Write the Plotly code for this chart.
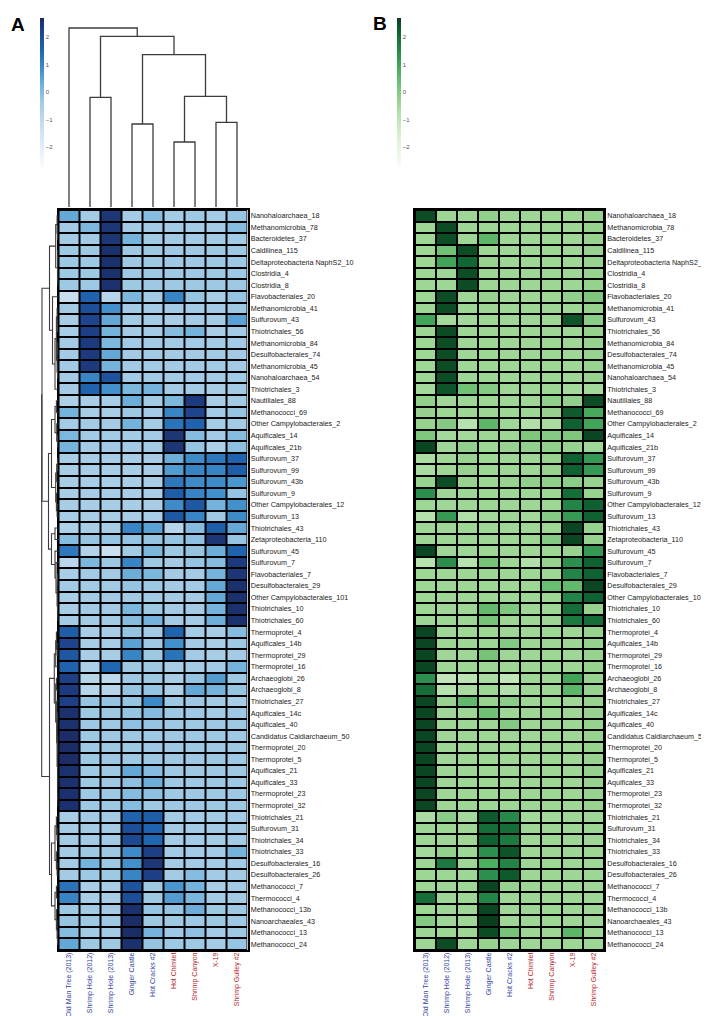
import plotly.graph_objects as go

W, H = 709, 1016

row_labels = [
    "Nanohaloarchaea_18", "Methanomicrobia_78", "Bacteroidetes_37", "Caldilinea_115",
    "Deltaproteobacteria NaphS2_10", "Clostridia_4", "Clostridia_8", "Flavobacteriales_20",
    "Methanomicrobia_41", "Sulfurovum_43", "Thiotrichales_56", "Methanomicrobia_84",
    "Desulfobacterales_74", "Methanomicrobia_45", "Nanohaloarchaea_54", "Thiotrichales_3",
    "Nautiliales_88", "Methanococci_69", "Other Campylobacterales_2", "Aquificales_14",
    "Aquificales_21b", "Sulfurovum_37", "Sulfurovum_99", "Sulfurovum_43b",
    "Sulfurovum_9", "Other Campylobacterales_12", "Sulfurovum_13", "Thiotrichales_43",
    "Zetaproteobacteria_110", "Sulfurovum_45", "Sulfurovum_7", "Flavobacteriales_7",
    "Desulfobacterales_29", "Other Campylobacterales_101", "Thiotrichales_10", "Thiotrichales_60",
    "Thermoprotei_4", "Aquificales_14b", "Thermoprotei_29", "Thermoprotei_16",
    "Archaeoglobi_26", "Archaeoglobi_8", "Thiotrichales_27", "Aquificales_14c",
    "Aquificales_40", "Candidatus Caldiarchaeum_50", "Thermoprotei_20", "Thermoprotei_5",
    "Aquificales_21", "Aquificales_33", "Thermoprotei_23", "Thermoprotei_32",
    "Thiotrichales_21", "Sulfurovum_31", "Thiotrichales_34", "Thiotrichales_33",
    "Desulfobacterales_16", "Desulfobacterales_26", "Methanococci_7", "Thermococci_4",
    "Methanococci_13b", "Nanoarchaeales_43", "Methanococci_13", "Methanococci_24",
]

col_labels = ["Old Man Tree (2013)", "Shrimp Hole (2012)", "Shrimp Hole (2013)",
              "Ginger Castle", "Hot Cracks #2", "Hot Chimlet", "Shrimp Canyon",
              "X-19", "Shrimp Gulley #2"]
col_groups = ["blue", "blue", "blue", "blue", "blue", "red", "red", "red", "red"]

A_values = [
    [0.4, -0.4, 2.5, -0.4, 0.0, -0.4, -0.3, -0.4, -0.2],
    [-0.4, 0.1, 2.5, -0.4, -0.4, -0.4, -0.4, -0.4, 0.0],
    [-0.4, -0.4, 2.5, 0.2, -0.4, -0.4, -0.4, -0.4, -0.4],
    [-0.3, -0.3, 2.6, -0.3, -0.3, -0.3, -0.3, -0.3, -0.3],
    [-0.3, -0.3, 2.6, -0.3, -0.3, -0.3, -0.3, -0.3, -0.3],
    [-0.3, -0.3, 2.6, -0.3, -0.3, -0.3, -0.3, -0.3, -0.3],
    [-0.3, -0.3, 2.6, -0.3, -0.3, -0.3, -0.3, -0.3, -0.3],
    [-1.2, 1.6, -0.8, 0.1, -0.4, 1.0, -0.2, -0.5, -0.2],
    [-0.4, 2.0, 0.8, -0.4, -0.4, -0.4, -0.4, -0.4, -0.3],
    [-0.5, 2.2, 0.4, -0.4, -0.4, -0.5, -0.4, -0.4, 0.5],
    [-0.5, 2.3, 0.2, -0.4, -0.4, 0.0, 0.2, -0.5, -0.4],
    [-0.4, 2.4, 0.1, -0.4, -0.4, -0.4, -0.4, -0.4, -0.4],
    [-0.4, 2.4, 0.4, -0.4, -0.4, -0.4, -0.4, -0.4, -0.4],
    [-0.4, 2.4, 0.2, -0.4, -0.4, -0.4, -0.4, -0.4, -0.4],
    [-0.4, 1.0, 1.9, -0.4, -0.4, -0.4, -0.4, -0.4, -0.4],
    [-0.4, 1.6, 0.8, 0.1, 0.2, -0.4, -0.4, -0.5, -0.4],
    [-0.6, -0.5, -0.5, 0.3, -0.4, 0.1, 2.4, -0.5, -0.4],
    [0.2, -0.5, -0.5, -0.3, -0.4, 1.0, 2.2, -0.4, -0.2],
    [-0.4, -0.4, -0.4, 0.2, -0.4, 1.3, 1.6, -0.4, -0.4],
    [0.1, -0.4, -0.4, -0.4, -0.4, 2.5, 0.0, -0.4, 0.0],
    [0.2, -0.4, -0.4, -0.4, -0.4, 2.5, -0.2, -0.6, -0.1],
    [-0.5, -0.5, -0.5, -0.5, -0.5, 0.3, 0.9, 1.2, 1.6],
    [-0.5, -0.5, -0.5, -0.5, -0.5, 0.6, 1.0, 1.0, 1.7],
    [-0.5, -0.5, -0.5, -0.5, -0.5, 1.2, 0.9, 0.9, 0.7],
    [-0.5, -0.5, -0.5, -0.5, -0.5, 1.7, 1.0, 0.8, -0.2],
    [-0.5, -0.5, -0.5, -0.5, -0.5, 0.9, 1.8, 0.2, 0.8],
    [-0.5, -0.5, -0.5, -0.5, -0.5, 1.8, 1.0, -0.3, 0.9],
    [-0.6, -0.5, -0.5, 1.0, 0.5, -0.8, 0.0, 1.7, 0.4],
    [0.0, -0.2, -0.2, -0.2, -0.2, -0.2, -0.1, 2.5, -0.2],
    [1.2, -0.7, -1.3, -0.4, 0.1, -0.3, -0.2, 0.3, 1.6],
    [-0.9, 0.1, -0.3, 1.0, -0.3, -0.4, -0.2, 0.0, 2.4],
    [-0.5, -0.4, -0.4, 0.3, 0.1, -0.4, -0.4, 0.2, 2.5],
    [-0.4, -0.4, -0.4, -0.2, -0.3, -0.4, -0.4, 0.4, 2.6],
    [-0.5, -0.4, -0.4, -0.4, -0.4, -0.4, -0.4, 0.4, 2.6],
    [-0.5, -0.4, -0.4, 0.1, -0.3, -0.4, -0.4, 0.2, 2.6],
    [-0.4, -0.4, -0.4, 0.0, 0.2, -0.4, -0.4, 0.3, 2.6],
    [1.7, -0.5, -0.5, -0.2, -0.4, 1.6, -0.4, -0.5, 0.0],
    [2.2, -0.5, -0.5, 0.5, -0.3, 0.8, -0.4, -0.5, -0.3],
    [1.8, -0.5, -0.5, 1.0, -0.3, 1.3, -0.4, -0.5, -0.4],
    [1.6, -0.6, 1.5, -0.3, -0.3, -0.5, -0.4, -0.4, 0.2],
    [2.3, -0.8, -1.0, -0.3, -0.3, -0.5, -0.2, 0.6, -0.3],
    [2.4, -0.8, -0.8, -0.2, -0.2, -0.6, 0.4, 0.2, -0.2],
    [2.3, -0.2, -0.2, -0.2, 0.9, -0.3, -0.3, -0.4, -0.5],
    [2.6, -0.3, -0.3, -0.2, 0.0, -0.3, -0.3, -0.4, -0.3],
    [2.6, -0.3, -0.3, -0.1, -0.2, -0.3, -0.3, -0.3, -0.3],
    [2.7, -0.3, -0.3, -0.3, -0.3, -0.3, -0.3, -0.3, -0.3],
    [2.7, -0.3, -0.3, -0.3, -0.3, -0.3, -0.3, -0.3, -0.3],
    [2.7, -0.3, -0.3, -0.3, -0.3, -0.3, -0.3, -0.3, -0.3],
    [2.6, -0.3, -0.3, 0.4, 0.0, -0.3, -0.3, -0.3, -0.3],
    [2.6, -0.3, -0.3, -0.1, 0.3, -0.3, -0.3, -0.3, -0.3],
    [2.6, -0.3, -0.3, 0.0, -0.1, -0.3, -0.3, -0.3, -0.3],
    [2.6, -0.3, -0.3, 0.0, -0.3, -0.3, -0.3, -0.3, -0.3],
    [-0.5, -0.4, -0.4, 1.6, 1.7, -0.4, -0.4, -0.4, -0.4],
    [-0.4, -0.4, -0.4, 2.0, 1.6, -0.4, -0.4, -0.4, -0.4],
    [-0.4, -0.4, -0.4, 2.1, 1.5, -0.4, -0.4, -0.4, -0.4],
    [-0.4, -0.3, -0.3, 0.9, 2.3, -0.4, -0.4, -0.4, 0.2],
    [-0.4, 0.2, -0.3, 0.8, 2.5, -0.4, -0.4, -0.4, -0.4],
    [-0.4, -0.3, -0.3, 1.0, 2.3, -0.4, 0.0, -0.4, -0.4],
    [1.3, -0.5, -0.5, 1.9, -0.3, 0.7, 0.2, -0.5, -0.4],
    [1.0, -0.5, -0.5, 2.0, -0.3, 0.6, 0.1, -0.4, -0.4],
    [-0.3, -0.4, -0.4, 2.6, -0.2, -0.2, 0.3, -0.3, -0.3],
    [-0.2, -0.3, -0.3, 2.7, -0.3, -0.3, -0.3, -0.3, -0.3],
    [0.0, -0.4, -0.4, 2.7, 0.2, -0.3, -0.1, -0.4, -0.3],
    [0.4, -0.3, -0.3, 2.6, -0.2, -0.3, -0.3, -0.4, -0.2],
]

B_values = [
    [2.5, -0.4, -0.4, -0.2, -0.4, -0.4, -0.4, -0.4, -0.3],
    [-0.4, 2.5, -0.4, -0.4, -0.4, -0.4, -0.4, -0.4, -0.3],
    [-0.4, 2.5, -0.4, 0.6, -0.4, -0.4, -0.4, -0.4, -0.3],
    [-0.4, 0.3, 2.5, -0.4, -0.4, -0.4, -0.4, -0.4, -0.3],
    [-0.4, 1.0, 2.1, -0.3, -0.4, -0.4, -0.4, -0.4, -0.3],
    [-0.4, -0.4, 2.5, -0.4, -0.4, -0.4, -0.4, -0.4, -0.3],
    [-0.4, -0.4, 2.5, -0.4, -0.4, -0.4, -0.4, -0.4, -0.3],
    [-0.4, 2.5, -0.4, -0.3, -0.4, -0.4, -0.4, -0.2, 0.1],
    [-0.4, 2.5, -0.4, -0.4, -0.4, -0.4, -0.4, -0.4, -0.3],
    [1.0, -0.5, -0.5, -0.4, -0.4, -0.4, -0.4, 2.4, -0.1],
    [-0.4, 2.5, -0.4, -0.4, -0.4, -0.4, -0.4, -0.4, -0.3],
    [-0.4, 2.5, -0.4, -0.4, -0.4, -0.4, -0.4, -0.4, -0.3],
    [-0.4, 2.5, -0.4, -0.4, -0.4, -0.4, -0.4, -0.4, -0.3],
    [-0.4, 2.5, -0.4, -0.4, -0.4, -0.4, -0.4, -0.4, -0.3],
    [-0.4, 2.5, -0.4, -0.4, -0.4, -0.4, -0.4, -0.4, -0.3],
    [-0.5, 2.4, 0.3, 0.0, -0.4, -0.4, -0.4, -0.5, -0.5],
    [-0.2, -0.4, -0.4, -0.4, -0.4, -0.4, -0.2, -0.2, 2.5],
    [-0.3, -0.4, -0.4, -0.4, -0.4, -0.4, -0.3, 2.3, 0.9],
    [-0.3, 0.0, -0.8, 0.6, -0.4, -0.7, -0.6, 2.2, 1.0],
    [0.1, -0.5, -0.5, -0.4, -0.4, 0.1, 0.0, 0.1, 2.6],
    [2.6, -0.4, -0.2, -0.4, -0.3, -0.2, -0.2, -0.3, -0.4],
    [-0.6, -0.4, -0.3, -0.4, -0.4, -0.4, -0.3, 2.2, 1.2],
    [-0.6, -0.4, -0.3, -0.4, -0.4, -0.4, -0.3, 2.2, 1.2],
    [-0.3, 2.5, -0.3, -0.4, -0.3, -0.2, -0.2, -0.1, -0.3],
    [1.4, -0.4, -0.4, -0.4, -0.4, -0.4, -0.4, 2.0, -0.3],
    [-0.4, -0.4, -0.4, -0.4, -0.4, -0.4, -0.4, 1.6, 2.2],
    [-0.8, 1.2, -0.7, -0.5, -0.4, -0.5, 0.0, 1.2, 2.2],
    [-0.4, -0.4, -0.4, -0.4, -0.4, -0.4, -0.4, 2.6, -0.3],
    [-0.4, -0.4, -0.4, -0.4, -0.4, -0.4, 0.0, 2.6, -0.3],
    [2.6, -0.4, -0.4, -0.4, -0.4, -0.4, -0.4, -0.3, 1.2],
    [-0.8, 1.4, -0.8, 0.2, -0.4, -0.7, -0.3, 1.4, 2.2],
    [-0.4, -0.4, -0.4, -0.4, -0.4, -0.4, -0.4, 1.6, 2.2],
    [-0.4, -0.4, -0.4, -0.4, -0.4, -0.4, 0.4, 0.5, 2.6],
    [-0.4, -0.4, -0.4, -0.4, -0.4, -0.4, -0.4, 1.6, 2.2],
    [-0.4, -0.4, -0.4, 0.5, 0.1, -0.4, -0.4, 2.0, -0.3],
    [-0.4, -0.4, -0.4, 0.2, -0.4, -0.4, -0.4, 1.8, 2.0],
    [2.6, -0.4, -0.4, -0.4, -0.4, -0.4, -0.4, -0.4, -0.3],
    [2.6, -0.4, -0.4, -0.4, 0.0, -0.4, -0.4, -0.4, -0.3],
    [2.6, -0.4, -0.4, 0.2, -0.4, -0.4, -0.4, -0.4, -0.3],
    [2.6, -0.4, -0.4, -0.4, -0.4, -0.4, -0.4, -0.4, -0.3],
    [1.4, -1.0, -0.9, -0.6, -1.0, -0.4, -0.4, 1.0, -0.3],
    [2.0, -0.8, -0.6, -0.4, -0.7, -0.4, -0.4, 0.6, -0.3],
    [2.6, -0.3, 0.5, -0.3, -0.1, -0.4, -0.4, -0.4, -0.3],
    [2.6, -0.4, -0.4, 0.3, -0.4, -0.4, -0.4, -0.4, -0.3],
    [2.6, -0.4, -0.4, -0.4, 0.0, -0.4, -0.4, -0.4, -0.3],
    [2.6, -0.4, -0.4, -0.4, -0.4, -0.4, -0.4, -0.4, -0.3],
    [2.6, -0.4, -0.4, -0.4, -0.4, -0.4, -0.4, -0.4, -0.3],
    [2.6, -0.4, -0.4, -0.4, -0.4, -0.4, -0.4, -0.4, -0.3],
    [2.6, -0.4, -0.4, -0.4, -0.4, -0.4, -0.4, -0.4, -0.3],
    [2.6, -0.4, -0.4, -0.4, -0.4, -0.4, -0.4, -0.4, -0.3],
    [2.6, -0.4, -0.4, -0.4, -0.4, -0.4, -0.4, -0.4, -0.3],
    [2.6, -0.4, -0.4, -0.4, -0.4, -0.4, -0.4, -0.4, -0.3],
    [-0.6, -0.1, -0.5, 2.3, 1.5, -0.5, -0.5, -0.4, -0.4],
    [-0.4, -0.4, -0.4, 2.0, 2.0, -0.4, -0.4, -0.4, -0.4],
    [-0.4, -0.4, -0.4, 2.2, 1.8, -0.4, -0.4, -0.4, -0.4],
    [-0.5, -0.2, -0.4, 1.4, 2.4, -0.4, -0.4, -0.4, -0.4],
    [-0.4, 1.8, -0.4, 0.8, 1.6, -0.4, -0.4, -0.4, -0.4],
    [-0.4, -0.4, -0.4, 1.4, 2.3, -0.4, -0.4, -0.4, -0.4],
    [-0.4, -0.4, -0.4, 2.6, -0.3, -0.4, -0.4, -0.4, -0.4],
    [2.0, -0.4, -0.4, 1.6, -0.4, -0.4, -0.4, -0.4, -0.4],
    [-0.4, -0.4, -0.4, 2.6, -0.4, -0.4, -0.4, -0.4, -0.4],
    [0.0, -0.4, -0.4, 2.7, -0.4, -0.4, -0.4, -0.4, -0.4],
    [-0.4, -0.4, -0.4, 2.5, 0.2, -0.4, -0.4, 0.6, -0.4],
    [-0.4, 2.5, -0.4, -0.3, -0.4, -0.4, -0.4, -0.4, -0.4],
]

# column dendrogram: [height, left, right]; leaves are column indices
col_tree = [179, 0, [170.7, [109.7, 1, 2], [152.3, [83, 3, 4], [110.7, [65, 5, 6], [84.7, 7, 8]]]]]

# row dendrogram: [height, left, right]; leaves are row indices
row_C1 = [2.8, [1.4, 0, [1.0, 1, 2]], [1.0, [0.7, 3, 4], [0.7, 5, 6]]]
row_C2 = [6.0, 7, [3.5, 15, [2.1, [1.4, 8, [1.0, 9, 10]], [1.4, [0.7, 11, 12], [1.0, 13, 14]]]]]
row_C3 = [3.5, [2.1, 16, 17], [1.8, 18, [1.0, 19, 20]]]
row_C4 = [2.8, [1.8, [1.0, 21, 22], 23], [2.1, 24, [1.4, 25, 26]]]
row_C5 = [3.5, 27, 28]
row_C6 = [3.5, 29, [2.5, 30, [1.4, [1.0, 31, 32], [1.0, 33, [0.7, 34, 35]]]]]
row_C7 = [4.2, [2.8, [2.1, 36, [1.4, 37, 38]], 39],
          [2.8, [2.1, 40, 41], [1.8, 42, [1.4, [1.0, 43, 44],
                                          [1.0, [0.7, 45, [0.6, 46, 47]], [0.8, [0.7, 48, 49], [0.7, 50, 51]]]]]]]
row_C8 = [3.5, [2.1, 52, [1.4, 53, 54]], [2.1, 55, [1.4, 56, 57]]]
row_C9 = [3.5, [2.1, 58, 59], [2.1, 60, [1.4, 61, [1.0, 62, 63]]]]
row_tree = [16.8, [16.5, [9.0, row_C1, row_C2], [10.0, [7.0, row_C3, row_C4], [7.0, row_C5, row_C6]]],
            [9.0, row_C7, [7.0, row_C8, row_C9]]]

GROUP_COLORS = {"blue": "#2f3f9e", "red": "#b3262b"}
FONT = "Liberation Sans, Arial, Helvetica, sans-serif"

blues = [[0.0, "#f7fbff"], [0.2, "#d6e7f5"], [0.35, "#b7d5eb"], [0.45, "#9cc8e4"],
         [0.55, "#6eb0da"], [0.65, "#4190cc"], [0.78, "#1f66b1"], [0.9, "#1d4690"],
         [1.0, "#1b2c66"]]
greens = [[0.0, "#f7fcf5"], [0.2, "#dcf0d5"], [0.35, "#b7e2ae"], [0.45, "#95d28d"],
          [0.55, "#73c276"], [0.65, "#4bae5f"], [0.78, "#26894a"], [0.9, "#0f6432"],
          [1.0, "#0a3f1e"]]


def px_x(p):
    return p / W


def px_y(p):
    return 1 - p / H


def dendro_lines(tree):
    pos_list, h_list = [], []

    def rec(node):
        if isinstance(node, int):
            return float(node), 0.0
        h, l, r = node
        pl, hl = rec(l)
        pr, hr = rec(r)
        pos_list.extend([pl, pl, pr, pr, None])
        h_list.extend([hl, h, h, hr, None])
        return (pl + pr) / 2.0, h

    rec(tree)
    return pos_list, h_list


nrow, ncol = len(row_labels), len(col_labels)
col_idx = list(range(ncol))
row_idx = list(range(nrow))
col_ticktext = [f'<span style="color:{GROUP_COLORS[g]}">{t}</span>' for t, g in zip(col_labels, col_groups)]

hm_top, hm_bot = 202, 942
A_x0, A_x1 = 50.5, 239.5
B_x0, B_x1 = 407, 596

fig = go.Figure()


def cbar(xpx):
    return dict(x=px_x(xpx), xanchor="left", y=px_y(10), yanchor="top",
                len=148, lenmode="pixels", thickness=3.5, thicknessmode="pixels",
                outlinewidth=0, xpad=0, ypad=0, ticks="",
                tickvals=[-2, -1, 0, 1, 2], ticktext=["\u22122", "\u22121", "0", "1", "2"],
                tickfont=dict(size=6, color="#555", family=FONT))


fig.add_trace(go.Heatmap(z=A_values, x=col_idx, y=row_idx, colorscale=blues, zmin=-2.7, zmax=2.7,
                         xgap=2, ygap=2, colorbar=cbar(32), xaxis="x", yaxis="y",
                         hoverinfo="skip"))
fig.add_trace(go.Heatmap(z=B_values, x=col_idx, y=row_idx, colorscale=greens, zmin=-2.7, zmax=2.7,
                         xgap=2, ygap=2, colorbar=cbar(389), xaxis="x2", yaxis="y2",
                         hoverinfo="skip"))

cx, cy = dendro_lines(col_tree)
fig.add_trace(go.Scatter(x=cx, y=cy, mode="lines", line=dict(color="#3c3c3c", width=1.3),
                         xaxis="x3", yaxis="y3", hoverinfo="skip", showlegend=False))
ry, rx = dendro_lines(row_tree)
fig.add_trace(go.Scatter(x=rx, y=ry, mode="lines", line=dict(color="#3c3c3c", width=1.1),
                         xaxis="x4", yaxis="y4", hoverinfo="skip", showlegend=False))

hm_ydom = [px_y(hm_bot), px_y(hm_top)]
ax_common = dict(showgrid=False, zeroline=False, showline=True, linecolor="black", linewidth=1.5,
                 mirror=True, ticks="")
xax = dict(range=[-0.5, ncol - 0.5], tickvals=col_idx, ticktext=col_ticktext, tickangle=-90,
           tickfont=dict(size=7.0, family=FONT), ticklabelstandoff=-2, **ax_common)
yax = dict(range=[nrow - 0.5, -0.5], tickvals=row_idx, ticktext=row_labels, side="right",
           tickfont=dict(size=7.2, family=FONT, color="#222"), ticklabelstandoff=0,
           domain=hm_ydom, **ax_common)

fig.update_layout(
    width=W, height=H, margin=dict(l=0, r=0, t=0, b=0),
    paper_bgcolor="white", plot_bgcolor="white", showlegend=False,
    font=dict(family=FONT),
    xaxis=dict(domain=[px_x(A_x0), px_x(A_x1)], anchor="y", **xax),
    yaxis=dict(anchor="x", **yax),
    xaxis2=dict(domain=[px_x(B_x0), px_x(B_x1)], anchor="y2", **xax),
    yaxis2=dict(anchor="x2", **yax),
    xaxis3=dict(domain=[px_x(A_x0), px_x(A_x1)], range=[-0.5, ncol - 0.5], anchor="y3",
                visible=False),
    yaxis3=dict(domain=[px_y(199), px_y(18)], range=[0, 181], anchor="x3", visible=False),
    xaxis4=dict(domain=[px_x(26), px_x(50.5)], range=[24.5, 0], anchor="y4", visible=False),
    yaxis4=dict(domain=hm_ydom, range=[nrow - 0.5, -0.5], anchor="x4", visible=False),
    shapes=[
        dict(type="rect", xref="x", yref="y", x0=-0.5, x1=ncol - 0.5, y0=-0.5, y1=nrow - 0.5,
             fillcolor="black", line=dict(width=0), layer="below"),
        dict(type="rect", xref="x2", yref="y2", x0=-0.5, x1=ncol - 0.5, y0=-0.5, y1=nrow - 0.5,
             fillcolor="black", line=dict(width=0), layer="below"),
    ],
    annotations=[
        dict(text="<b>A</b>", x=px_x(1), y=px_y(4), xref="paper", yref="paper",
             xanchor="left", yanchor="top", showarrow=False,
             font=dict(size=19, color="black", family=FONT)),
        dict(text="<b>B</b>", x=px_x(363), y=px_y(3), xref="paper", yref="paper",
             xanchor="left", yanchor="top", showarrow=False,
             font=dict(size=19, color="black", family=FONT)),
    ],
)

fig.write_html("out.html")
